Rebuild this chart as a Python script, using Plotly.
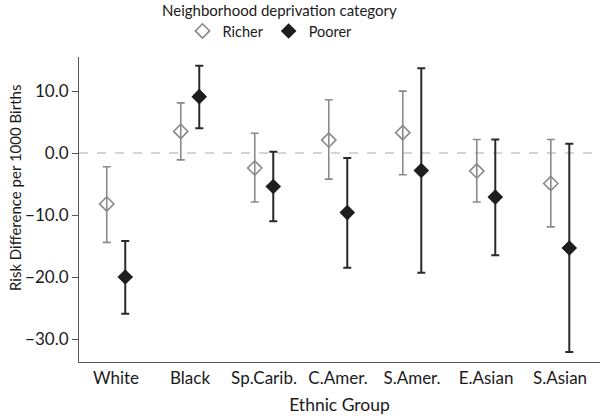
import plotly.graph_objects as go

groups = ["White", "Black", "Sp.Carib.", "C.Amer.", "S.Amer.", "E.Asian", "S.Asian"]
richer = [-8.2, 3.5, -2.4, 2.1, 3.3, -2.9, -4.9]
richer_hi = [-2.2, 8.1, 3.2, 8.6, 10.0, 2.2, 2.2]
richer_lo = [-14.4, -1.1, -7.9, -4.2, -3.5, -7.9, -11.9]
poorer = [-20.0, 9.1, -5.4, -9.6, -2.8, -7.1, -15.3]
poorer_hi = [-14.2, 14.1, 0.2, -0.8, 13.7, 2.2, 1.5]
poorer_lo = [-25.9, 4.0, -11.0, -18.5, -19.3, -16.5, -32.1]
y_ticks = [10, 0, -10, -20, -30]

FONT = "Lato"
W, H = 600, 419
L, T, B = 79, 57, 57
PW, PH = W - L, H - T - B

fig = go.Figure()
fig.add_trace(go.Scatter(
    x=groups, y=richer, mode="markers", name="Richer", offsetgroup="r",
    marker=dict(symbol="diamond-open", size=11, color="#8a8a8a", line=dict(width=1.6, color="#8a8a8a")),
    error_y=dict(type="data", symmetric=False,
                 array=[h - v for h, v in zip(richer_hi, richer)],
                 arrayminus=[v - l for v, l in zip(richer, richer_lo)],
                 color="#8a8a8a", thickness=1.6, width=4),
))
fig.add_trace(go.Scatter(
    x=groups, y=poorer, mode="markers", name="Poorer", offsetgroup="p",
    marker=dict(symbol="diamond", size=12, color="#1e1e1e", line=dict(width=0)),
    error_y=dict(type="data", symmetric=False,
                 array=[h - v for h, v in zip(poorer_hi, poorer)],
                 arrayminus=[v - l for v, l in zip(poorer, poorer_lo)],
                 color="#2a2a2a", thickness=2, width=4),
))
fig.add_hline(y=0, line=dict(color="#c8c8c8", width=1.5, dash="dash"), layer="below")

fig.add_annotation(
    text="Risk Difference per 1000 Births", textangle=-90,
    xref="paper", yref="paper", x=(15 - L) / PW, y=(H - B - 188) / PH,
    xanchor="center", yanchor="middle",
    showarrow=False, font=dict(size=15, family=FONT, color="#1a1a1a"),
)
fig.add_annotation(
    text="Neighborhood deprivation category",
    xref="paper", yref="paper", x=(279 - L) / PW, y=(H - B - 10) / PH,
    xanchor="center", yanchor="middle",
    showarrow=False, font=dict(size=15, family=FONT, color="#1a1a1a"),
)

fig.update_layout(
    width=W, height=H,
    margin=dict(l=L, r=0, t=T, b=B, autoexpand=False),
    paper_bgcolor="white", plot_bgcolor="white",
    font=dict(family=FONT, size=17, color="#1a1a1a"),
    scattermode="group", scattergap=0.5,
    showlegend=True,
    legend=dict(orientation="h", x=270 / W, xanchor="center", xref="container",
                y=1 - 31 / H, yanchor="middle", yref="container",
                font=dict(size=14.5), itemwidth=30, tracegroupgap=0),
)
fig.update_xaxes(
    type="category", range=[-0.5, 6.54], showline=True, linecolor="#555", linewidth=1.2,
    ticks="", showgrid=False, zeroline=False,
    tickfont=dict(size=17),
    title=dict(text="Ethnic Group", font=dict(size=17.5), standoff=12),
)
fig.update_yaxes(
    range=[-33.7, 15.5], tickvals=y_ticks, tickformat=".1f",
    showline=True, linecolor="#555", linewidth=1.2,
    ticks="outside", ticklen=6, tickcolor="#555",
    showgrid=False, zeroline=False,
    tickfont=dict(size=17),
)
fig.write_html("out.html", post_script="document.body.style.margin='0';",
               config={"displayModeBar": False})
